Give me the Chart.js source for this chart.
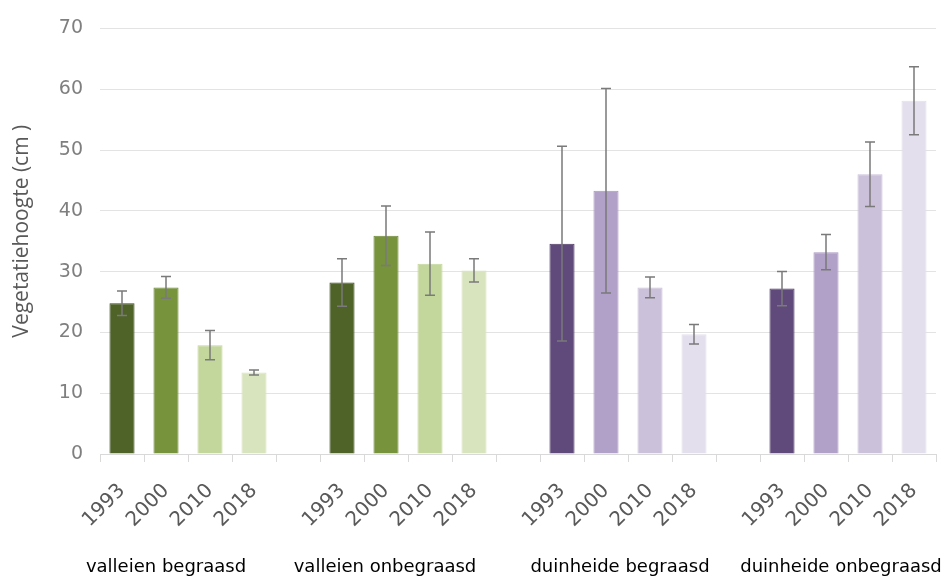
<!DOCTYPE html>
<html>
<head>
<meta charset="utf-8">
<script src="https://cdn.jsdelivr.net/npm/chart.js@4/dist/chart.umd.min.js"></script>
<style>
  html, body { margin: 0; padding: 0; background: #ffffff; }
  #wrap { width: 945px; height: 576px; position: relative; }
</style>
</head>
<body>
<div id="wrap"><canvas id="c" width="945" height="576"></canvas></div>
<script>
// ---- data ----
const groups = ['valleien begraasd', 'valleien onbegraasd', 'duinheide begraasd', 'duinheide onbegraasd'];
const years = ['1993', '2000', '2010', '2018'];

const valleienBegraasd      = [24.8, 27.4, 17.9, 13.4];
const valleienBegraasdErr   = [2.0, 1.8, 2.4, 0.4];
const valleienOnbegraasd    = [28.2, 35.9, 31.3, 30.2];
const valleienOnbegraasdErr = [3.9, 4.9, 5.2, 1.9];
const duinheideBegraasd     = [34.6, 43.3, 27.4, 19.7];
const duinheideBegraasdErr  = [16.0, 16.8, 1.7, 1.6];
const duinheideOnbegraasd   = [27.2, 33.2, 46.0, 58.1];
const duinheideOnbegraasdErr= [2.8, 2.9, 5.3, 5.6];

const yTicks = [0, 10, 20, 30, 40, 50, 60, 70];
const yTitle = 'Vegetatiehoogte (cm )';

// ---- styles ----
const greens = ['#4f6228', '#77933c', '#c3d69b', '#d7e4bd'];
const greenBorders = ['#3b4a1d', '#6d8836', '#c3d69b', '#d7e4bd'];
const purples = ['#604a7b', '#b1a0c7', '#ccc1da', '#e4dfec'];
const purpleBorders = ['#4b3962', '#a897bf', '#ccc1da', '#e4dfec'];

// ---- build category table (with blank gap categories between groups) ----
const seriesValues = [valleienBegraasd, valleienOnbegraasd, duinheideBegraasd, duinheideOnbegraasd];
const seriesErrors = [valleienBegraasdErr, valleienOnbegraasdErr, duinheideBegraasdErr, duinheideOnbegraasdErr];
const groupFills = [greens, greens, purples, purples];
const groupBorders = [greenBorders, greenBorders, purpleBorders, purpleBorders];

const labels = [], values = [], errors = [], fills = [], borders = [], groupIdx = [];
seriesValues.forEach((vals, g) => {
  if (g > 0) { labels.push(''); values.push(null); errors.push(null); fills.push('rgba(0,0,0,0)'); borders.push('rgba(0,0,0,0)'); groupIdx.push(-1); }
  vals.forEach((v, i) => {
    labels.push(years[i]);
    values.push(v);
    errors.push(seriesErrors[g][i]);
    fills.push(groupFills[g][i]);
    borders.push(groupBorders[g][i]);
    groupIdx.push(g);
  });
});

// error bar plugin: draws whiskers through the y scale
const errorBars = {
  id: 'errorBars',
  afterDatasetsDraw(chart) {
    const ctx = chart.ctx;
    const y = chart.scales.y;
    const meta = chart.getDatasetMeta(0);
    ctx.save();
    ctx.strokeStyle = '#7a7a7a';
    ctx.lineWidth = 1.5;
    meta.data.forEach((bar, i) => {
      if (values[i] == null) return;
      const e = errors[i];
      const yt = y.getPixelForValue(values[i] + e);
      const yb = y.getPixelForValue(values[i] - e);
      const x = bar.x;
      const cap = 5;
      ctx.beginPath();
      ctx.moveTo(x, yt); ctx.lineTo(x, yb);
      ctx.moveTo(x - cap, yt); ctx.lineTo(x + cap, yt);
      ctx.moveTo(x - cap, yb); ctx.lineTo(x + cap, yb);
      ctx.stroke();
    });
    ctx.restore();
  }
};

// group labels under each group of years + y-axis title
const groupLabelShift = [-22, -23, -8, -7];
const textDecor = {
  id: 'textDecor',
  afterDraw(chart) {
    const ctx = chart.ctx;
    const xs = chart.scales.x;
    ctx.save();
    ctx.font = '18px "DejaVu Sans"';
    ctx.fillStyle = '#000000';
    ctx.textAlign = 'center';
    ctx.textBaseline = 'alphabetic';
    groups.forEach((name, g) => {
      const idx = [];
      groupIdx.forEach((gi, i) => { if (gi === g) idx.push(i); });
      const cx = (xs.getPixelForValue(idx[0]) + xs.getPixelForValue(idx[idx.length - 1])) / 2;
      ctx.fillText(name, cx + groupLabelShift[g], 572);
    });
    ctx.restore();

    const ca = chart.chartArea;
    ctx.save();
    ctx.translate(22, (ca.top + ca.bottom) / 2 - 10);
    ctx.rotate(-Math.PI / 2);
    ctx.font = '21px "Open Sans"';
    ctx.fillStyle = '#595959';
    ctx.textAlign = 'center';
    ctx.textBaseline = 'middle';
    ctx.fillText(yTitle, 0, 0);
    ctx.restore();
  }
};

new Chart(document.getElementById('c'), {
  type: 'bar',
  data: {
    labels: labels,
    datasets: [{
      data: values,
      backgroundColor: fills,
      borderColor: borders,
      borderWidth: 1,
      barPercentage: 0.57,
      categoryPercentage: 1.0
    }]
  },
  options: {
    responsive: false,
    animation: false,
    devicePixelRatio: 1,
    layout: { padding: { top: 23, right: 9, bottom: 0, left: 0 } },
    plugins: { legend: { display: false }, tooltip: { enabled: false } },
    scales: {
      x: {
        grid: { display: true, drawOnChartArea: false, drawTicks: true, tickLength: 8, color: '#d9d9d9', offset: true },
        border: { display: true, color: '#d9d9d9', width: 1 },
        ticks: {
          autoSkip: false, maxRotation: 45, minRotation: 45, padding: 17,
          color: '#595959', font: { family: 'DejaVu Sans', size: 20 }
        },
        afterFit(s) { s.height = 122; s.paddingRight = 0; s.paddingLeft = 0; }
      },
      y: {
        min: 0, max: 70,
        afterBuildTicks(s) { s.ticks = yTicks.map(v => ({ value: v })); },
        grid: { color: '#e3e3e3', lineWidth: 1, drawTicks: false },
        border: { display: false },
        ticks: { padding: 17, color: '#7f7f7f', font: { family: 'DejaVu Sans', size: 19 } },
        afterFit(s) { s.width = 100; }
      }
    }
  },
  plugins: [errorBars, textDecor]
});
</script>
</body>
</html>
